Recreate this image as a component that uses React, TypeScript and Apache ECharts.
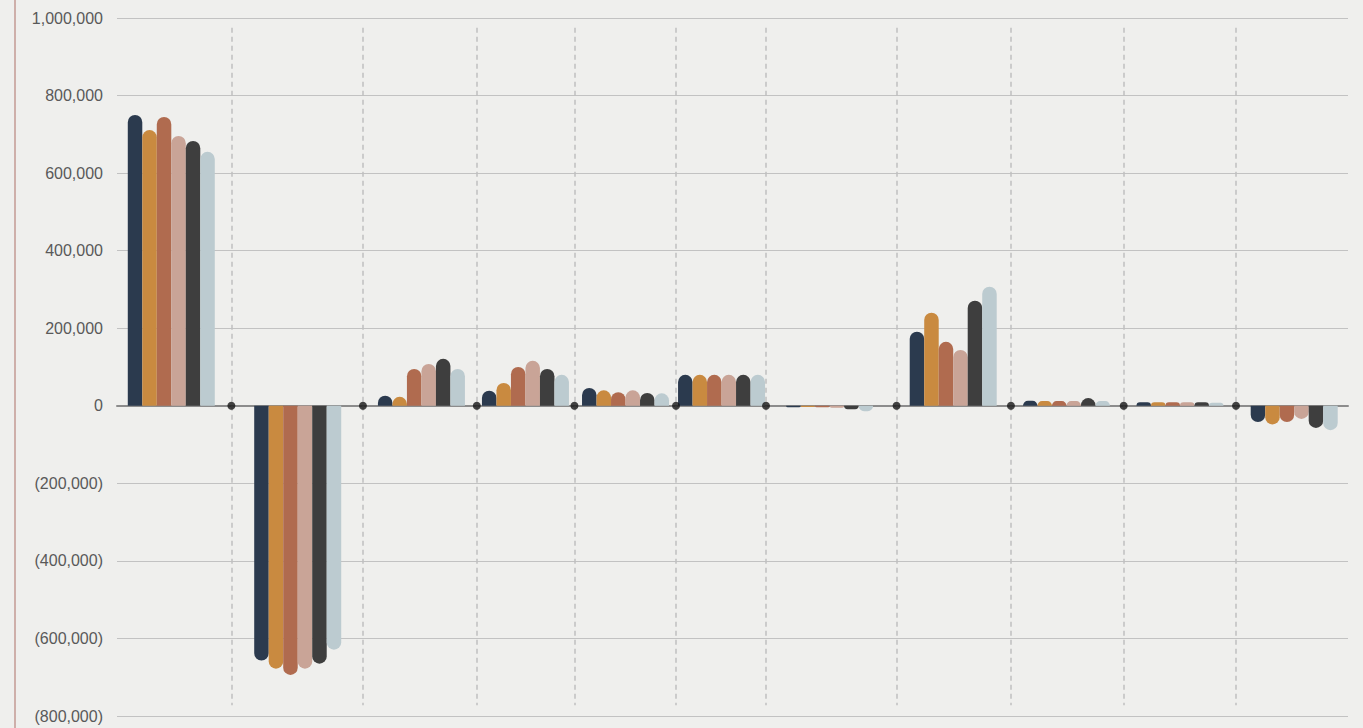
import React, { useEffect, useRef } from "react";
import * as echarts from "echarts";

// Group positions along a hidden 0–100 horizontal scale
const groupPositions = [4.41, 14.68, 24.73, 33.18, 41.31, 49.11, 57.89, 67.93, 77.13, 86.35, 95.63];
const dividerPositions = [9.29, 19.98, 29.23, 37.16, 45.41, 52.72, 63.33, 72.62, 81.78, 90.9];

const seriesNames = ["Series 1", "Series 2", "Series 3", "Series 4", "Series 5", "Series 6"];
const series1 = [750000, -657000, 26000, 39000, 46000, 80000, -4000, 191000, 13000, 9000, -42000];
const series2 = [711000, -678000, 23000, 59000, 40000, 80000, -3000, 240000, 12000, 9000, -48000];
const series3 = [745000, -694000, 95000, 100000, 35000, 80000, -4000, 165000, 12000, 9000, -42000];
const series4 = [696000, -678000, 108000, 116000, 40000, 80000, -5000, 144000, 12000, 9000, -34000];
const series5 = [683000, -665000, 121000, 95000, 33000, 80000, -9000, 271000, 20000, 9000, -57000];
const series6 = [655000, -629000, 95000, 80000, 32000, 80000, -14000, 307000, 12000, 8000, -63000];

const colors = ["#2b3a4e", "#c98a40", "#b06b4f", "#c9a497", "#3e3e3e", "#bccbd0"];
const yTicks = { min: -800000, max: 1000000, interval: 200000 };

export default function App() {
  const ref = useRef<HTMLDivElement>(null);

  useEffect(() => {
    if (!ref.current) return;
    const chart = echarts.init(ref.current, null, { renderer: "svg" });
    const all = [series1, series2, series3, series4, series5, series6];
    const radius = 7.25;

    const barSeries = all.map((vals, si) => ({
      name: seriesNames[si],
      type: "bar",
      barWidth: 14.5,
      barGap: "0%",
      itemStyle: { color: colors[si] },
      data: vals.map((v, i) => ({
        value: [groupPositions[i], v],
        itemStyle: {
          borderRadius: v >= 0 ? [radius, radius, 0, 0] : [0, 0, radius, radius],
        },
      })),
      z: 3,
    }));

    const fmt = (v: number) =>
      v < 0 ? `(${Math.abs(v).toLocaleString("en-US")})` : v.toLocaleString("en-US");

    chart.setOption({
      animation: false,
      backgroundColor: "transparent",
      grid: { left: 117, right: 15, top: 18, bottom: 12, containLabel: false },
      xAxis: {
        type: "value",
        min: 0,
        max: 100,
        axisLine: { show: true, onZero: true, lineStyle: { color: "#8c8c8c", width: 2 } },
        axisTick: { show: false },
        axisLabel: { show: false },
        splitLine: { show: false },
      },
      yAxis: {
        type: "value",
        min: yTicks.min,
        max: yTicks.max,
        interval: yTicks.interval,
        axisLine: { show: false },
        axisTick: { show: false },
        axisLabel: {
          formatter: fmt,
          color: "#595959",
          fontSize: 16,
          fontFamily: "'Liberation Sans', Arial, sans-serif",
          margin: 14,
        },
        splitLine: { show: true, lineStyle: { color: "#c2c2c2", width: 1.2 } },
      },
      series: [
        ...barSeries,
        {
          type: "scatter",
          symbol: "circle",
          symbolSize: 8,
          itemStyle: { color: "#151515" },
          data: dividerPositions.map((x) => [x, 0]),
          z: 5,
          silent: true,
          markLine: {
            silent: true,
            symbol: ["none", "none"],
            label: { show: false },
            lineStyle: { color: "#c0c0c0", type: [5, 4], width: 1.5 },
            data: dividerPositions.map((x) => [
              { coord: [x, 975000] },
              { coord: [x, -772000] },
            ]),
          },
        },
      ],
      graphic: [
        {
          type: "line",
          shape: { x1: 15, y1: 0, x2: 15, y2: 728 },
          style: { stroke: "#c39a93", lineWidth: 1.5 },
          silent: true,
        },
      ],
    });
    return () => chart.dispose();
  }, []);

  return (
    <div
      style={{
        position: "fixed",
        left: 0,
        top: 0,
        width: 1363,
        height: 728,
        background: "#efefed",
      }}
    >
      <div ref={ref} style={{ width: 1363, height: 728 }} />
    </div>
  );
}
